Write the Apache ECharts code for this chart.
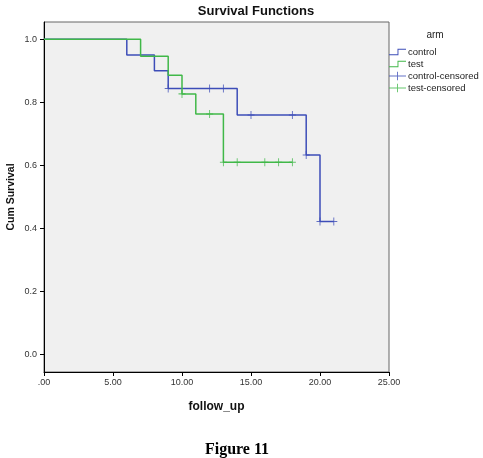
<!DOCTYPE html>
<html lang="en">
<head>
<meta charset="utf-8" />
<title>Survival Functions</title>
<script src="https://cdn.jsdelivr.net/npm/echarts@6/dist/echarts.min.js"></script>
</head>
<body style="margin:0;background:#fff;">
<div id="chart" style="width:483px;height:458px;"></div>
<script>
// Kaplan-Meier steps: [follow_up, cum survival]
var controlSteps = [[0, 1], [6, 0.95], [8, 0.90], [9, 0.844], [14, 0.76], [19, 0.633], [20, 0.422], [21, 0.422]];
var testSteps = [[0, 1], [7, 0.946], [9, 0.886], [10, 0.827], [11, 0.763], [13, 0.61], [18, 0.61]];
var controlCensored = [[9, 0.844], [12, 0.844], [13, 0.844], [15, 0.76], [18, 0.76], [19, 0.633], [20, 0.422], [21, 0.422]];
var testCensored = [[10, 0.827], [12, 0.763], [13, 0.61], [14, 0.61], [16, 0.61], [17, 0.61], [18, 0.61]];
var yTicks = [0, 0.2, 0.4, 0.6, 0.8, 1.0];

var blue = '#3d4db8';
var green = '#40b848';
var plus = 'path://M-0.13,-1H0.13V1H-0.13Z M-1,-0.13H1V0.13H-1Z';
var stepIcon = 'path://M0,7H9V1H18V2H10V8H0Z';
var censIcon = 'path://M0,4H8.5V0H9.5V4H18V5H9.5V9H8.5V5H0Z';
var font = 'Liberation Sans, Arial, sans-serif';

var chart = echarts.init(document.getElementById('chart'));
chart.setOption({
	animation: false,
	grid: {
		left: 44, right: 94, top: 22, bottom: 86,
		outerBoundsMode: 'none',
		containLabel: false,
		show: true,
		backgroundColor: '#f0f0f0',
		borderColor: '#666',
		borderWidth: 1
	},
	graphic: [
		{type: 'text', x: 256, y: 11, style: {text: 'Survival Functions', font: 'bold 13px ' + font, fill: '#111', textAlign: 'center', textVerticalAlign: 'middle'}},
		{type: 'text', x: 435, y: 35, style: {text: 'arm', font: '10px ' + font, fill: '#222', textAlign: 'center', textVerticalAlign: 'middle'}},
		{type: 'text', x: 237, y: 450, style: {text: 'Figure 11', font: 'bold 16px Liberation Serif, Times New Roman, serif', fill: '#000', textAlign: 'center', textVerticalAlign: 'middle'}}
	],
	legend: {
		orient: 'vertical',
		left: 389,
		top: 47,
		itemWidth: 17,
		itemHeight: 9,
		itemGap: 2,
		padding: 0,
		textStyle: {fontSize: 9.5, color: '#222', fontFamily: font, padding: [0, 0, 0, -3]},
		data: [
			{name: 'control', icon: stepIcon},
			{name: 'test', icon: stepIcon},
			{name: 'control-censored', icon: censIcon},
			{name: 'test-censored', icon: censIcon}
		]
	},
	xAxis: {
		type: 'value',
		min: 0, max: 25, interval: 5,
		name: 'follow_up',
		nameLocation: 'middle',
		nameGap: 29,
		nameTextStyle: {fontSize: 12, fontWeight: 'bold', color: '#111', fontFamily: font},
		axisLine: {onZero: false, lineStyle: {color: '#000', width: 1}},
		axisTick: {length: 4, lineStyle: {color: '#000'}},
		axisLabel: {
			fontSize: 9, color: '#333', fontFamily: font, margin: 6,
			formatter: function (v) { return v === 0 ? '.00' : v.toFixed(2); }
		},
		splitLine: {show: false}
	},
	yAxis: {
		type: 'value',
		min: -0.055, max: 1.055,
		name: 'Cum Survival',
		nameLocation: 'middle',
		nameGap: 27,
		nameMoveOverlap: false,
		nameTextStyle: {fontSize: 10.5, fontWeight: 'bold', color: '#111', fontFamily: font},
		axisLine: {show: true, onZero: false, lineStyle: {color: '#000', width: 1}},
		axisTick: {show: true, length: 4, customValues: yTicks, lineStyle: {color: '#000'}},
		axisLabel: {
			fontSize: 9, color: '#333', fontFamily: font, margin: 7,
			customValues: yTicks,
			formatter: function (v) { return v.toFixed(1); }
		},
		splitLine: {show: false}
	},
	series: [
		{name: 'control', type: 'line', step: 'end', showSymbol: false, color: blue, lineStyle: {width: 1.5, color: blue}, data: controlSteps, z: 3},
		{name: 'test', type: 'line', step: 'end', showSymbol: false, color: green, lineStyle: {width: 1.5, color: green}, data: testSteps, z: 3},
		{name: 'control-censored', type: 'scatter', symbol: plus, symbolSize: [7, 8], color: blue, data: controlCensored, z: 4},
		{name: 'test-censored', type: 'scatter', symbol: plus, symbolSize: [7, 8], color: green, data: testCensored, z: 4}
	]
});
</script>
</body>
</html>
